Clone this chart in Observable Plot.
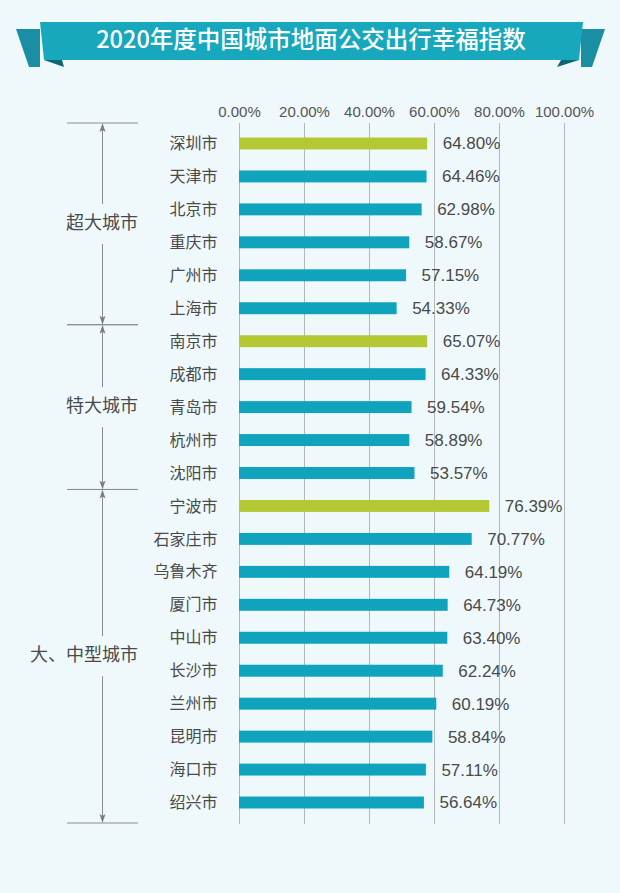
<!DOCTYPE html>
<html><head><meta charset="utf-8">
<script src="https://cdn.jsdelivr.net/npm/d3@7"></script>
<script src="https://cdn.jsdelivr.net/npm/@observablehq/plot@0.6"></script>
<style>
html,body{margin:0;padding:0;background:#eff9fc;}
#wrap{width:620px;height:893px;position:relative;background:#eff9fc;font-family:"Liberation Sans","Noto Sans CJK SC",sans-serif;overflow:hidden;}
#banner{display:block;}
#chart svg{display:block;}
</style></head>
<body>
<div id="wrap">
<svg id="banner" width="620" height="85" xmlns="http://www.w3.org/2000/svg">
  <polygon points="16,29 40,29 40,67 29,67" fill="#1a8ea3"/>
  <polygon points="581,29 605,29 592,67 581,67" fill="#1a8ea3"/>
  <polygon points="40,22 583,22 579,60 44,60" fill="#17a8bd"/>
  <polygon points="44,60 62,60 64,67" fill="#0e6676"/>
  <polygon points="579,60 561,60 557,67" fill="#0e6676"/>
  <text x="311" y="42" text-anchor="middle" dominant-baseline="middle" fill="#ffffff" font-size="23.5" font-weight="500" font-family="'Noto Sans CJK SC','Liberation Sans',sans-serif">2020年度中国城市地面公交出行幸福指数</text>
</svg>
<div id="chart"></div>
</div>
<script>
// ---- data ----
const cities = ["深圳市","天津市","北京市","重庆市","广州市","上海市",
                "南京市","成都市","青岛市","杭州市","沈阳市",
                "宁波市","石家庄市","乌鲁木齐","厦门市","中山市","长沙市","兰州市","昆明市","海口市","绍兴市"];
const cityGroup = ["超大城市","超大城市","超大城市","超大城市","超大城市","超大城市",
                   "特大城市","特大城市","特大城市","特大城市","特大城市",
                   "大、中型城市","大、中型城市","大、中型城市","大、中型城市","大、中型城市","大、中型城市","大、中型城市","大、中型城市","大、中型城市","大、中型城市"];
// printed percentages
const printedValues = [64.80,64.46,62.98,58.67,57.15,54.33,
                       65.07,64.33,59.54,58.89,53.57,
                       76.39,70.77,64.19,64.73,63.40,62.24,60.19,58.84,57.11,56.64];
// bar lengths as drawn in the picture (read against the gridlines)
const barValues = [57.9,57.7,56.2,52.4,51.4,48.5,
                   57.9,57.4,53.1,52.4,54.0,
                   77.0,71.6,64.7,64.2,64.1,62.7,60.7,59.5,57.5,56.9];
const highlighted = ["深圳市","南京市","宁波市"];
const groupNames = ["超大城市","特大城市","大、中型城市"];
const xTicks = [0,20,40,60,80,100];

const TEAL = "#0fa3bd", GREEN = "#b4c833", TXT = "#4a4a4a";

const data = cities.map((c,i)=>({city:c, group:cityGroup[i], printed:printedValues[i], bar:barValues[i]}));

const plot = Plot.plot({
  width: 620,
  height: 808,
  marginTop: 42,
  marginBottom: 74,
  marginLeft: 239,
  marginRight: 56,
  style: {background:"transparent", fontFamily:"'Liberation Sans','Noto Sans CJK SC',sans-serif", overflow:"visible"},
  x: {domain:[0,100], axis:null},
  y: {domain: cities, padding:0, round:false, axis:null},
  color: {type:"identity"},
  marks: [
    Plot.ruleX(xTicks, {x: d=>d, stroke:"#b2b7b9", strokeWidth:1, insetTop:-4, insetBottom:-5}),
    Plot.barX(data, {x:"bar", y:"city", fill: d => highlighted.includes(d.city) ? GREEN : TEAL, insetTop:10.5, insetBottom:10.5}),
    Plot.text(data, {x:"bar", y:"city", text: d => d.printed.toFixed(2)+"%", dx:15, textAnchor:"start", fontSize:17, fill:TXT}),
    Plot.text(data, {y:"city", text:"city", frameAnchor:"left", dx:-22, textAnchor:"end", fontSize:16, fill:TXT, fontFamily:"'Noto Sans CJK SC',sans-serif"}),
    Plot.text(xTicks, {x: d=>d, text: d => d.toFixed(2)+"%", frameAnchor:"top", dy:-21, fontSize:15, fill:"#555"})
  ]
});
document.getElementById("chart").appendChild(plot);

// ---- group brackets, positioned through the plot's own y scale ----
const ys = plot.scale("y");
const bw = ys.bandwidth;
const svg = d3.select(plot);
const g = svg.append("g").attr("stroke","#8c8c8c").attr("fill","none");
const XL = 67, XR = 138, XV = 102.5;
groupNames.forEach((name, gi) => {
  const members = data.filter(d => d.group === name);
  let top = ys.apply(members[0].city);
  let bot = ys.apply(members[members.length-1].city) + bw;
  if (gi === 0) top -= 4;
  if (gi === groupNames.length-1) bot += 4;
  const mid = (top + bot) / 2;
  g.append("line").attr("x1",XL).attr("x2",XR).attr("y1",top).attr("y2",top);
  g.append("line").attr("x1",XL).attr("x2",XR).attr("y1",bot).attr("y2",bot);
  g.append("line").attr("x1",XV).attr("x2",XV).attr("y1",top+2).attr("y2",mid-20);
  g.append("line").attr("x1",XV).attr("x2",XV).attr("y1",mid+20).attr("y2",bot-2);
  svg.append("path").attr("fill","#7d7d7d")
    .attr("d",`M${XV},${top} L${XV-3},${top+9} L${XV},${top+7} L${XV+3},${top+9} Z`);
  svg.append("path").attr("fill","#7d7d7d")
    .attr("d",`M${XV},${bot} L${XV-3},${bot-9} L${XV},${bot-7} L${XV+3},${bot-9} Z`);
  svg.append("text").attr("x",XR).attr("y",mid).attr("text-anchor","end")
    .attr("dominant-baseline","middle").attr("font-size",18).attr("fill",TXT)
    .attr("font-family","'Noto Sans CJK SC',sans-serif").text(name);
});
</script>
</body></html>
